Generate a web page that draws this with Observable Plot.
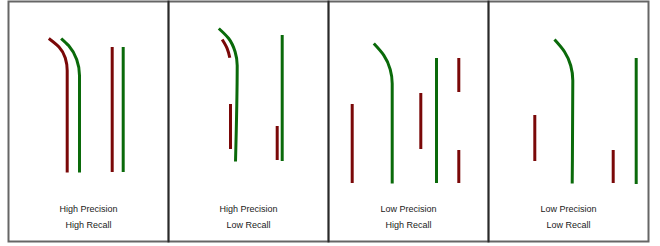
<!DOCTYPE html>
<html>
<head>
<meta charset="utf-8">
<script src="https://cdn.jsdelivr.net/npm/d3@7"></script>
<script src="https://cdn.jsdelivr.net/npm/@observablehq/plot@0.6"></script>
<style>
  html, body { margin: 0; padding: 0; background: #fff; }
  #chart { width: 660px; height: 246px; }
</style>
</head>
<body>
<div id="chart"></div>
<script>
// Panel captions
const panels = [
  "High Precision\nHigh Recall",
  "High Precision\nLow Recall",
  "Low Precision\nHigh Recall",
  "Low Precision\nLow Recall"
];

// Curved (hooked) strokes: panel index, kind, x values, y values (panel units)
const curvePanel = [0, 0, 1, 1, 2, 3];
const curveKind  = ["predicted", "actual", "actual", "predicted", "actual", "actual"];
const curveX = [
  [40.3, 50.5, 56.8, 58.7, 58.7],
  [52.7, 60.1, 68.2, 71, 71],
  [50.3, 60.2, 66.6, 68.7, 67],
  [53.7, 58.6, 61.3],
  [45.3, 55.2, 61.7, 63.7, 63.7],
  [66, 76, 82.2, 84.3, 83.7]
];
const curveY = [
  [38, 46.6, 57.5, 70, 172],
  [38, 45.1, 59.1, 75, 172],
  [28, 38, 51.3, 65, 161],
  [39, 47.8, 57.3],
  [43, 54.6, 68.8, 83, 183],
  [39, 51.2, 65, 80, 183]
];

// Straight vertical bars: panel index, kind, x, top, bottom (panel units)
const barPanel = [0, 0, 1, 1, 1, 2, 2, 2, 2, 2, 3, 3, 3];
const barKind  = ["predicted", "actual",
                  "predicted", "predicted", "actual",
                  "predicted", "predicted", "actual", "predicted", "predicted",
                  "predicted", "predicted", "actual"];
const barX  = [103.7, 114.7, 62, 108.7, 113.7, 23.7, 92.3, 108, 130.3, 130.3, 46.3, 124.7, 147.7];
const barY1 = [47, 47, 104, 126, 35, 104, 93, 58, 58, 150, 115, 150, 58];
const barY2 = [172, 172, 149, 160, 161, 183, 149, 183, 92, 183, 161, 183, 184];

const curveRows = curvePanel.flatMap((p, i) =>
  curveX[i].map((x, j) => ({panel: panels[p], id: i, kind: curveKind[i], x, y: curveY[i][j]}))
);
const barRows = barPanel.map((p, i) => ({
  panel: panels[p], kind: barKind[i], x: barX[i], y1: barY1[i], y2: barY2[i]
}));

const chart = Plot.plot({
  width: 660,
  height: 246,
  marginLeft: 8,
  marginRight: 12,
  marginTop: 1,
  marginBottom: 5,
  style: {fontFamily: "'Liberation Sans', Arial, Helvetica, sans-serif", background: "#fff"},
  fx: {domain: panels, padding: 0, axis: null},
  x: {domain: [0, 160], axis: null},
  y: {domain: [1, 241], reverse: true, axis: null},
  color: {domain: ["predicted", "actual"], range: ["#7a0808", "#0a6a0a"]},
  marks: [
    Plot.frame({stroke: "#000", strokeOpacity: 0.6, strokeWidth: 2}),
    Plot.line(curveRows, {
      x: "x", y: "y", z: "id", fx: "panel", stroke: "kind",
      strokeWidth: 3, curve: "monotone-y", strokeLinecap: "butt"
    }),
    Plot.ruleX(barRows, {
      x: "x", y1: "y1", y2: "y2", fx: "panel", stroke: "kind",
      strokeWidth: 3, strokeLinecap: "butt"
    }),
    Plot.text(panels, {
      fx: d => d, x: 80, y: 214.5, text: d => d,
      fontSize: 9, lineHeight: 1.75, fill: "#1a1a1a"
    })
  ]
});
document.getElementById("chart").appendChild(chart);
</script>
</body>
</html>
